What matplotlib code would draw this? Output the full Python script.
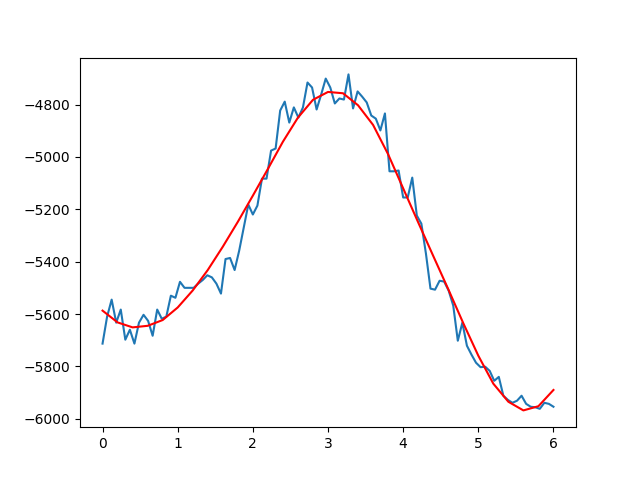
import numpy as np
import matplotlib
matplotlib.use('Agg')
import matplotlib.pyplot as plt

# noisy measurements, 100 samples over 0..6
x_data = np.linspace(0, 6, 100)
y_data = [
    -5713, -5610, -5545, -5633, -5583, -5698, -5660, -5713, -5633, -5603,
    -5626, -5683, -5583, -5618, -5610, -5530, -5538, -5477, -5500, -5500,
    -5500, -5484, -5470, -5452, -5460, -5484, -5522, -5390, -5386, -5432,
    -5358, -5270, -5182, -5220, -5186, -5083, -5083, -4976, -4968, -4823,
    -4789, -4869, -4811, -4850, -4811, -4716, -4735, -4819, -4762, -4701,
    -4735, -4796, -4777, -4781, -4685, -4815, -4750, -4770, -4792, -4842,
    -4854, -4899, -4834, -5055, -5055, -5052, -5155, -5155, -5079, -5224,
    -5255, -5369, -5503, -5507, -5473, -5476, -5511, -5568, -5702, -5633,
    -5721, -5755, -5786, -5803, -5801, -5817, -5855, -5840, -5912, -5928,
    -5939, -5931, -5912, -5943, -5954, -5956, -5962, -5939, -5943, -5954,
]

# fitted curve
x_fit = np.arange(0, 6.01, 0.2)
y_fit = [
    -5587, -5632, -5651, -5645, -5623, -5575, -5510, -5432, -5343, -5248,
    -5148, -5046, -4942, -4850, -4782, -4752, -4757, -4803, -4878, -4990,
    -5120, -5250, -5378, -5505, -5635, -5759, -5866, -5935, -5968, -5952,
    -5890,
]

fig, ax = plt.subplots(figsize=(6.4, 4.8), dpi=100)
ax.plot(x_data, y_data)
ax.plot(x_fit, y_fit, color='r')

plt.savefig('out.png')
